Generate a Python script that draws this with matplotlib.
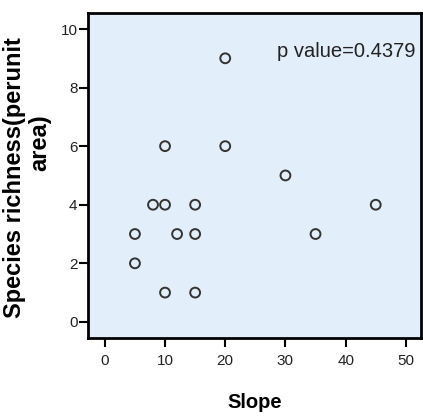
import matplotlib.pyplot as plt

slope = [20, 10, 20, 30, 8, 10, 15, 45, 5, 12, 15, 35, 5, 10, 15]
richness = [9, 6, 6, 5, 4, 4, 4, 4, 3, 3, 3, 3, 2, 1, 1]
xticks = [0, 10, 20, 30, 40, 50]
yticks = [0, 2, 4, 6, 8, 10]
p_text = "p value=0.4379"

plt.rcParams['font.family'] = ['Liberation Sans', 'DejaVu Sans']

fig = plt.figure(figsize=(4.23, 4.16), dpi=100)
ax = fig.add_axes([0.208, 0.1875, 0.787, 0.7815])
ax.set_facecolor("#e2eefa")

ax.scatter(slope, richness, s=50, facecolors="none", edgecolors="#333333",
           linewidths=1.4, zorder=3)

ax.set_xlim(-2.8, 52.5)
ax.set_ylim(-0.55, 10.55)
ax.set_xticks(xticks)
ax.set_yticks(yticks)

for sp in ax.spines.values():
    sp.set_linewidth(2)
ax.tick_params(axis="x", direction="out", length=6.5, width=1.5, pad=5,
               labelsize=11, labelcolor="#222222")
ax.tick_params(axis="y", direction="out", length=6.5, width=1.5, pad=1,
               labelsize=11, labelcolor="#222222")

ax.text(0.985, 0.91, p_text, transform=ax.transAxes, ha="right", va="top",
        fontsize=14.5, color="#222222")

ax.set_xlabel("Slope", fontsize=14.5, fontweight="bold", va="center")
ax.xaxis.set_label_coords(0.5, -0.197)

# axis title is split in two lines, second one sits off-centre
ax.set_ylabel("Species richness(perunit", fontsize=17, fontweight="bold", va="center")
ax.yaxis.set_label_coords(-0.22, 0.492)
ax.text(-0.144, 0.6, "area)", transform=ax.transAxes, rotation=90,
        ha="center", va="center", fontsize=17, fontweight="bold")

fig.savefig("out.png", dpi=100)
